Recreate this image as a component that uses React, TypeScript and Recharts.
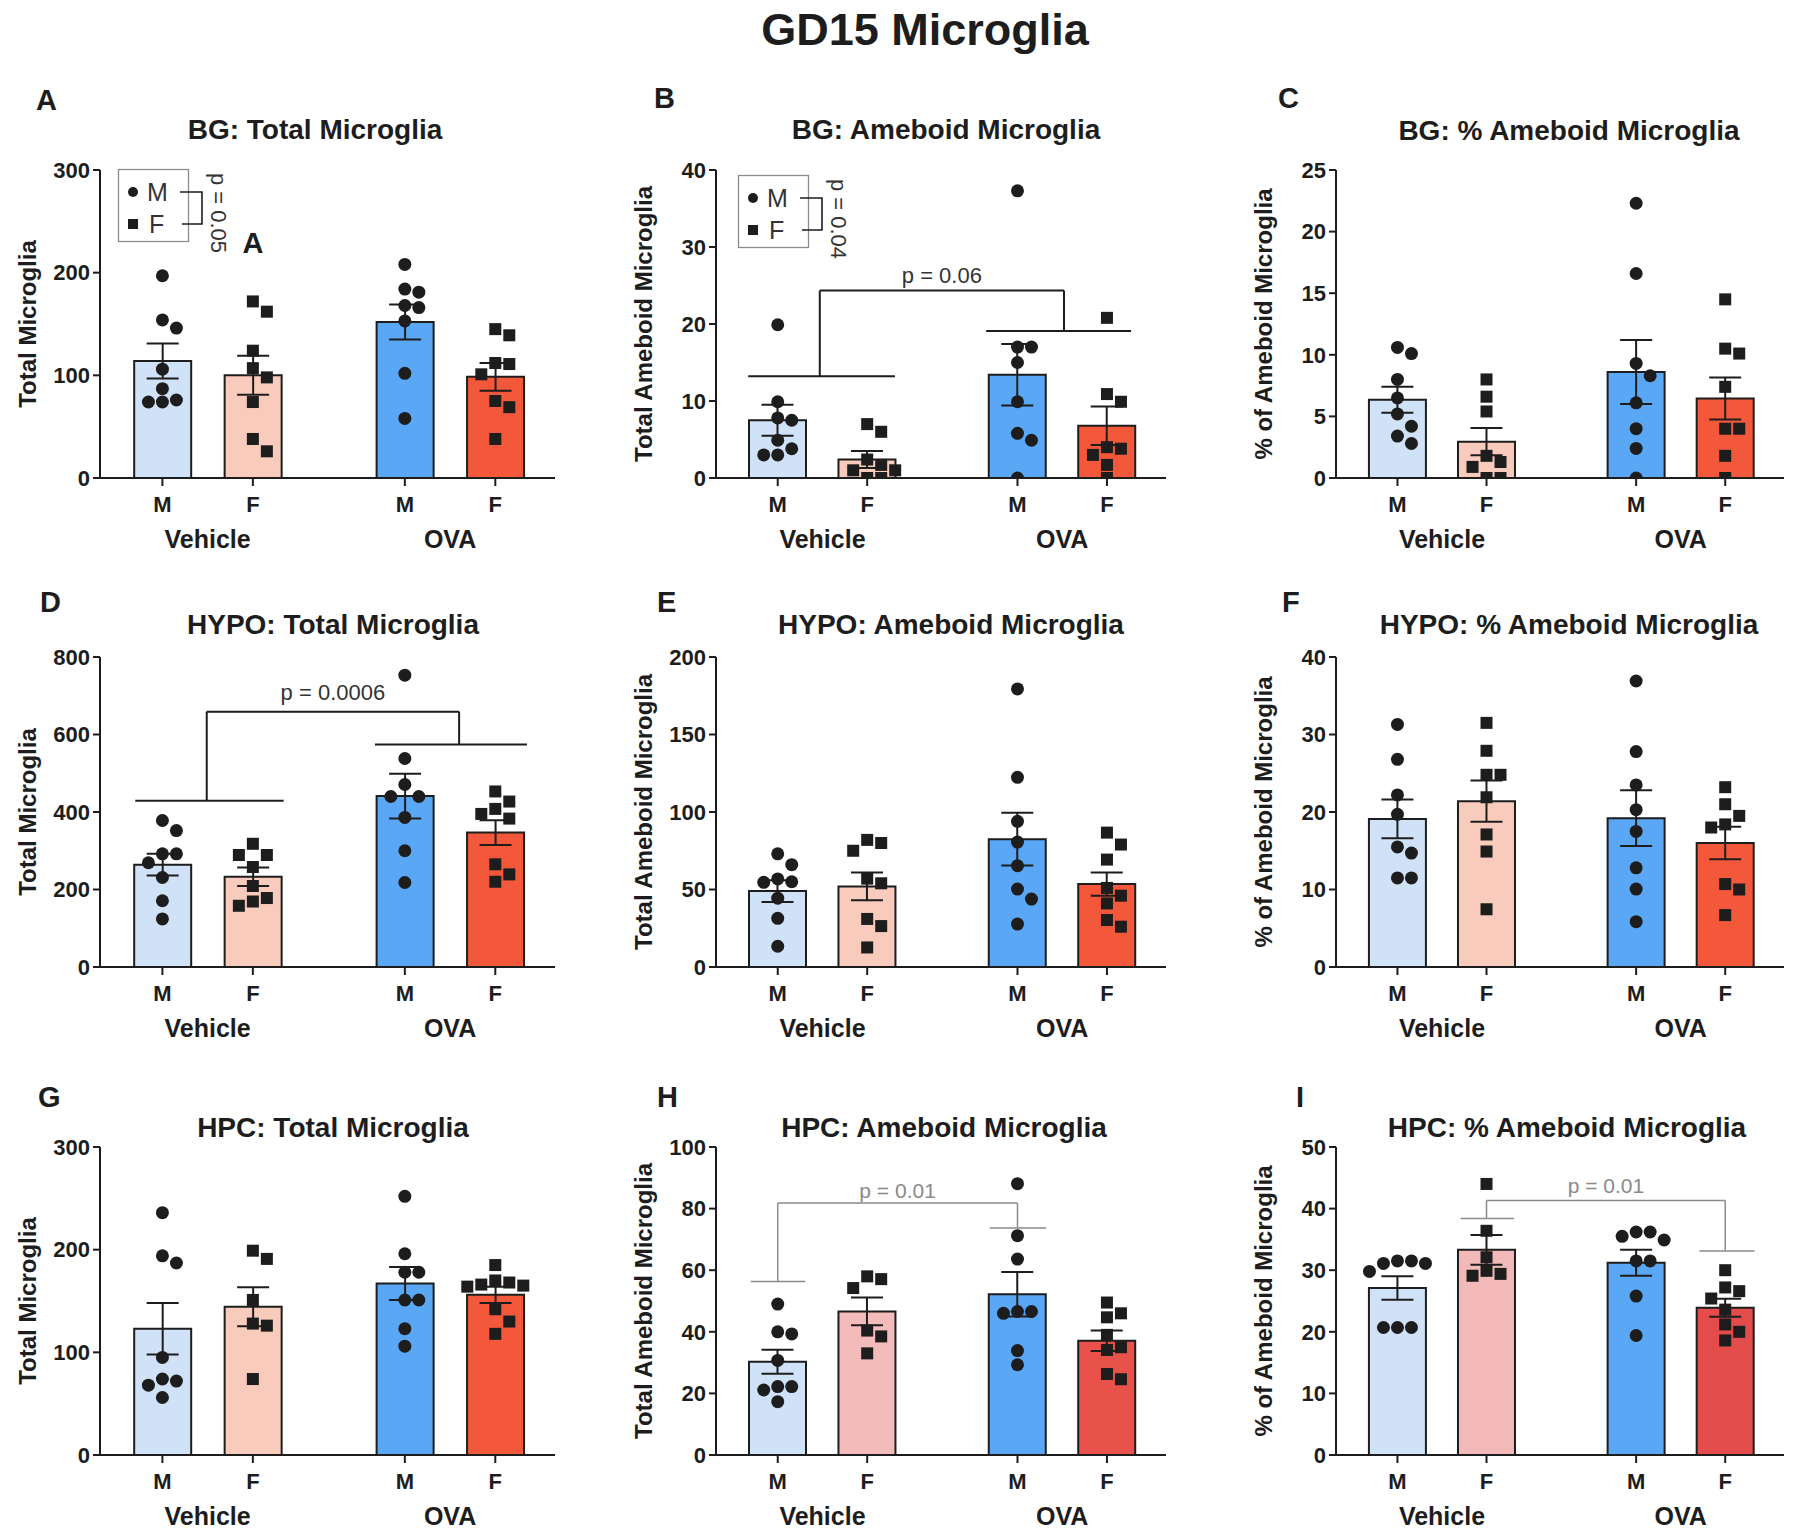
import {
  ComposedChart,
  Bar,
  Cell,
  ErrorBar,
  Scatter,
  XAxis,
  YAxis,
  ReferenceLine,
  ReferenceDot,
  Legend,
} from "recharts";

const FONT = '"Liberation Sans", Arial, Helvetica, sans-serif';
const INK = "#1d1d1d";
const GREY = "#8a8a8a";

// group order in every panel: Vehicle M, Vehicle F, OVA M, OVA F
const groupX = [1, 2, 3.68, 4.68];
const sexTicks = ["M", "F", "M", "F"];
const treatmentX = [1.5, 4.18];
const treatmentTicks = ["Vehicle", "OVA"];
const X_DOMAIN: [number, number] = [0.31, 5.34];

const colorsStd = ["#cfe2f8", "#f9cbbd", "#5aa8f5", "#f4583b"];
const colorsHpcAmeb = ["#cfe2f8", "#f3bcbb", "#5aa8f5", "#e8524b"];
const colorsHpcPct = ["#cfe2f8", "#f2b9b8", "#5aa8f5", "#e44b4b"];

// ---- BG
const bgTotalPts = [
  [197, 154, 146, 106, 87, 76, 74, 74],
  [172, 162, 124, 107, 98, 74, 38, 26],
  [208, 184, 181, 168, 166, 153, 102, 58],
  [145, 139, 112, 111, 101, 75, 69, 38],
];
const bgTotalMean = [114, 100, 152, 98.5];
const bgTotalSem = [17, 19, 17, 13.5];

const bgAmebPts = [
  [19.9, 9.9, 7.8, 7.5, 4.9, 3.8, 3.0, 3.0],
  [7.0, 6.0, 2.4, 1.7, 1.0, 1.0, 0, 0],
  [37.3, 17.0, 17.0, 15.0, 9.9, 5.8, 4.9, 0],
  [20.8, 10.9, 9.9, 4.0, 3.8, 3.0, 1.7, 0],
];
const bgAmebMean = [7.5, 2.4, 13.4, 6.8];
const bgAmebSem = [2.0, 1.1, 4.0, 2.5];

const bgPctPts = [
  [10.6, 10.1, 8.0, 6.5, 5.2, 4.2, 3.4, 2.8],
  [8.0, 6.6, 5.4, 1.8, 1.3, 0.9, 0, 0],
  [22.3, 16.6, 9.3, 8.3, 6.1, 4.0, 2.4, 0],
  [14.5, 10.5, 10.1, 7.4, 4.0, 4.0, 1.8, 0],
];
const bgPctMean = [6.35, 2.95, 8.6, 6.45];
const bgPctSem = [1.05, 1.1, 2.6, 1.7];

// ---- HYPO
const hypoTotalPts = [
  [378, 352, 292, 292, 269, 231, 171, 124],
  [318, 289, 289, 258, 209, 178, 169, 158],
  [753, 538, 471, 440, 440, 386, 300, 218],
  [453, 427, 408, 395, 383, 265, 239, 220],
];
const hypoTotalMean = [264, 233, 441, 347];
const hypoTotalSem = [28, 24, 58, 32];

const hypoAmebPts = [
  [73, 66, 56.8, 55, 54.6, 44.4, 31.4, 13.4],
  [82, 80, 75, 57, 54, 31, 26.4, 12.6],
  [179.4, 122.4, 94, 80.6, 65.4, 50.3, 43.8, 27.7],
  [86.7, 79, 69.3, 51, 46, 41, 30.3, 26],
];
const hypoAmebMean = [49, 52, 82.5, 53.5];
const hypoAmebSem = [7, 9, 17, 7.5];

const hypoPctPts = [
  [31.3, 26.8, 22.2, 19.7, 15.5, 14.7, 11.5, 11.5],
  [31.5, 27.9, 24.8, 24.8, 21.9, 17.1, 14.9, 7.45],
  [36.9, 27.8, 23.5, 20.3, 17.5, 12.8, 10.05, 5.85],
  [23.2, 21.0, 19.5, 18.4, 18.0, 10.7, 10.0, 6.7],
];
const hypoPctMean = [19.1, 21.4, 19.2, 16.0];
const hypoPctSem = [2.5, 2.65, 3.6, 2.1];

// ---- HPC
const hpcTotalPts = [
  [236, 194, 187, 95, 74, 72, 68, 56],
  [199, 191, 151, 128, 126, 74],
  [252, 196, 178, 178, 151, 151, 123, 106],
  [185, 170, 168, 166, 165, 164, 142, 130, 118],
];
const hpcTotalMean = [123, 144.5, 167, 156];
const hpcTotalSem = [25, 19, 16, 8];

const hpcAmebPts = [
  [49, 40, 39.3, 30.7, 22.2, 22.2, 21.1, 17.3],
  [58, 57.1, 54.2, 40.4, 38.5, 33],
  [88.1, 71.2, 63.6, 46.6, 46.6, 46, 33.9, 29.3],
  [49.5, 46, 44.7, 39, 35, 34.1, 26.3, 24.6],
];
const hpcAmebMean = [30.3, 46.6, 52.2, 37.1];
const hpcAmebSem = [3.9, 4.5, 7.2, 3.3];

const hpcPctPts = [
  [31.5, 31.5, 31.1, 31.1, 29.8, 20.7, 20.7, 20.7],
  [44, 36.4, 32.1, 29.9, 29.4, 29.1],
  [36.2, 36.2, 35.5, 34.9, 31.5, 31.5, 25.8, 19.4],
  [30, 27.2, 26.6, 25.4, 23.6, 21.2, 20, 18.6],
];
const hpcPctMean = [27.1, 33.3, 31.2, 23.9];
const hpcPctSem = [1.9, 2.4, 2.1, 1.45];

// plot-area placement on the page
const COLS = [
  { l: 100, r: 555 },
  { l: 716, r: 1166 },
  { l: 1336, r: 1784 },
];
const ROWS = [
  { t: 170, b: 478 },
  { t: 657, b: 967 },
  { t: 1147, b: 1455 },
];
const Y_AXIS_W = 146;
const M_TOP = 20;
const M_RIGHT = 10;
const X_AXIS_H = 30;
const GRP_AXIS_H = 50;

interface Bracket {
  lx: number;
  rx: number;
  top: number;
  leftY: number;
  rightY: number;
  leftSpan: [number, number];
  rightSpan: [number, number];
  text: string;
  textY: number;
  color: string;
  strokeWidth: number;
  fontSize: number;
}

interface PanelSpec {
  col: number;
  row: number;
  yMax: number;
  yTicks: number[];
  yLabel: string;
  pts: number[][];
  mean: number[];
  sem: number[];
  colors: string[];
  bracket?: Bracket;
  sexKey?: { p: string; left: number; top: number };
  mark?: { x: number; y: number; text: string };
}

const panels: PanelSpec[] = [
  {
    col: 0, row: 0, yMax: 300, yTicks: [0, 100, 200, 300], yLabel: "Total Microglia",
    pts: bgTotalPts, mean: bgTotalMean, sem: bgTotalSem, colors: colorsStd,
    sexKey: { p: "p = 0.05", left: 118, top: 169 },
    mark: { x: 2, y: 229, text: "A" },
  },
  {
    col: 1, row: 0, yMax: 40, yTicks: [0, 10, 20, 30, 40], yLabel: "Total Ameboid Microglia",
    pts: bgAmebPts, mean: bgAmebMean, sem: bgAmebSem, colors: colorsStd,
    sexKey: { p: "p = 0.04", left: 738, top: 175 },
    bracket: {
      lx: 1.47, rx: 4.2, top: 24.35, leftY: 13.2, rightY: 19.1,
      leftSpan: [0.67, 2.31], rightSpan: [3.33, 4.95],
      text: "p = 0.06", textY: 26.4, color: INK, strokeWidth: 2, fontSize: 22,
    },
  },
  {
    col: 2, row: 0, yMax: 25, yTicks: [0, 5, 10, 15, 20, 25], yLabel: "% of Ameboid Microglia",
    pts: bgPctPts, mean: bgPctMean, sem: bgPctSem, colors: colorsStd,
  },
  {
    col: 0, row: 1, yMax: 800, yTicks: [0, 200, 400, 600, 800], yLabel: "Total Microglia",
    pts: hypoTotalPts, mean: hypoTotalMean, sem: hypoTotalSem, colors: colorsStd,
    bracket: {
      lx: 1.49, rx: 4.28, top: 659, leftY: 429, rightY: 574,
      leftSpan: [0.7, 2.34], rightSpan: [3.35, 5.03],
      text: "p = 0.0006", textY: 708, color: INK, strokeWidth: 2, fontSize: 22,
    },
  },
  {
    col: 1, row: 1, yMax: 200, yTicks: [0, 50, 100, 150, 200], yLabel: "Total Ameboid Microglia",
    pts: hypoAmebPts, mean: hypoAmebMean, sem: hypoAmebSem, colors: colorsStd,
  },
  {
    col: 2, row: 1, yMax: 40, yTicks: [0, 10, 20, 30, 40], yLabel: "% of Ameboid Microglia",
    pts: hypoPctPts, mean: hypoPctMean, sem: hypoPctSem, colors: colorsStd,
  },
  {
    col: 0, row: 2, yMax: 300, yTicks: [0, 100, 200, 300], yLabel: "Total Microglia",
    pts: hpcTotalPts, mean: hpcTotalMean, sem: hpcTotalSem, colors: colorsStd,
  },
  {
    col: 1, row: 2, yMax: 100, yTicks: [0, 20, 40, 60, 80, 100], yLabel: "Total Ameboid Microglia",
    pts: hpcAmebPts, mean: hpcAmebMean, sem: hpcAmebSem, colors: colorsHpcAmeb,
    bracket: {
      lx: 1, rx: 3.68, top: 81.8, leftY: 56.3, rightY: 73.7,
      leftSpan: [0.7, 1.31], rightSpan: [3.37, 4.0],
      text: "p = 0.01", textY: 86, color: GREY, strokeWidth: 1.5, fontSize: 21,
    },
  },
  {
    col: 2, row: 2, yMax: 50, yTicks: [0, 10, 20, 30, 40, 50], yLabel: "% of Ameboid Microglia",
    pts: hpcPctPts, mean: hpcPctMean, sem: hpcPctSem, colors: colorsHpcPct,
    bracket: {
      lx: 2, rx: 4.68, top: 41.3, leftY: 38.4, rightY: 33.1,
      leftSpan: [1.71, 2.31], rightSpan: [4.39, 5.01],
      text: "p = 0.01", textY: 43.7, color: GREY, strokeWidth: 1.5, fontSize: 21,
    },
  },
];

const panelLetters = [
  { text: "A", x: 36, y: 110 },
  { text: "B", x: 654, y: 108 },
  { text: "C", x: 1278, y: 108 },
  { text: "D", x: 40, y: 612 },
  { text: "E", x: 657, y: 612 },
  { text: "F", x: 1282, y: 612 },
  { text: "G", x: 38, y: 1107 },
  { text: "H", x: 657, y: 1107 },
  { text: "I", x: 1296, y: 1107 },
];

const panelTitles = [
  { text: "BG: Total Microglia", x: 315, y: 139 },
  { text: "BG: Ameboid Microglia", x: 946, y: 139 },
  { text: "BG: % Ameboid Microglia", x: 1569, y: 140 },
  { text: "HYPO: Total Microglia", x: 333, y: 634 },
  { text: "HYPO: Ameboid Microglia", x: 951, y: 634 },
  { text: "HYPO: % Ameboid Microglia", x: 1569, y: 634 },
  { text: "HPC: Total Microglia", x: 333, y: 1137 },
  { text: "HPC: Ameboid Microglia", x: 944, y: 1137 },
  { text: "HPC: % Ameboid Microglia", x: 1567, y: 1137 },
];

// Prism-like dot spreading: each dot goes as near the centre as it can
// without touching the dots already placed (offsets in pixels)
function swarm(values: number[], pxPerY: number, d = 13, step = 14) {
  const order = values.map((_, i) => i).sort((a, b) => values[b] - values[a]);
  const placed: { dx: number; py: number }[] = [];
  const out = values.map(() => 0);
  order.forEach((i) => {
    const py = values[i] * pxPerY;
    for (let k = 0; k < 30; k++) {
      const dx = k === 0 ? 0 : (k % 2 ? 1 : -1) * Math.ceil(k / 2) * step;
      if (placed.every((q) => (q.dx - dx) ** 2 + (q.py - py) ** 2 >= d * d - 0.01)) {
        placed.push({ dx, py });
        out[i] = dx;
        break;
      }
    }
  });
  return out;
}

function Marker(props: any) {
  const { cx, cy, payload } = props;
  if (cx == null || cy == null) return null;
  if (payload.sex === "M") return <circle cx={cx} cy={cy} r={6.5} fill={INK} />;
  return <rect x={cx - 6} y={cy - 6} width={12} height={12} fill={INK} />;
}

function SexKey({ p }: { p: string }) {
  return (
    <svg width={120} height={90} style={{ overflow: "visible", fontFamily: FONT }}>
      <rect x={0.5} y={0.5} width={70} height={72} fill="#fff" stroke="#8c8c8c" strokeWidth={1.3} />
      <circle cx={15} cy={23} r={5} fill={INK} />
      <text x={29} y={32} fontSize={25} fill="#333">M</text>
      <rect x={10} y={50} width={10} height={10} fill={INK} />
      <text x={31} y={64} fontSize={25} fill="#333">F</text>
      <polyline points="62,23 84,23 84,55 64,55" fill="none" stroke={INK} strokeWidth={1.6} />
      <text
        transform="translate(100 44) rotate(90)"
        textAnchor="middle"
        dominantBaseline="central"
        fontSize={22}
        fill="#333"
      >
        {p}
      </text>
    </svg>
  );
}

function bracketLines(br: Bracket) {
  return [
    [br.leftSpan[0], br.leftY, br.leftSpan[1], br.leftY],
    [br.rightSpan[0], br.rightY, br.rightSpan[1], br.rightY],
    [br.lx, br.leftY, br.lx, br.top],
    [br.lx, br.top, br.rx, br.top],
    [br.rx, br.top, br.rx, br.rightY],
  ];
}

function Panel({ spec }: { spec: PanelSpec }) {
  const { l, r } = COLS[spec.col];
  const { t, b } = ROWS[spec.row];
  const plotW = r - l;
  const plotH = b - t;
  const width = Y_AXIS_W + plotW + M_RIGHT;
  const height = M_TOP + plotH + X_AXIS_H + GRP_AXIS_H + 4;
  const left = l - Y_AXIS_W;
  const top = t - M_TOP;
  const pxPerX = plotW / (X_DOMAIN[1] - X_DOMAIN[0]);
  const pxPerY = plotH / spec.yMax;

  const bars = groupX.map((x, i) => ({ x, mean: spec.mean[i], sem: spec.sem[i] }));
  const points = spec.pts.flatMap((vals, g) => {
    const dx = swarm(vals, pxPerY);
    return vals.map((v, j) => ({ x: groupX[g] + dx[j] / pxPerX, y: v, sex: sexTicks[g] }));
  });
  const axisStyle = { stroke: INK, strokeWidth: 2 };

  return (
    <div style={{ position: "absolute", left, top }}>
      <ComposedChart
        width={width}
        height={height}
        data={bars}
        margin={{ top: M_TOP, right: M_RIGHT, bottom: 4, left: 0 }}
      >
        <XAxis
          dataKey="x"
          type="number"
          domain={X_DOMAIN}
          allowDataOverflow
          ticks={groupX}
          interval={0}
          tickFormatter={(_v: number, i: number) => sexTicks[i]}
          height={X_AXIS_H}
          tickSize={8}
          tickMargin={10}
          axisLine={axisStyle}
          tickLine={axisStyle}
          tick={{ fontSize: 22, fontWeight: 700, fill: INK, fontFamily: FONT }}
        />
        {/* second row of labels; the dots and brackets also live on this axis so
            their x values do not shrink the bar band */}
        <XAxis
          xAxisId="grp"
          dataKey="x"
          type="number"
          domain={X_DOMAIN}
          allowDataOverflow
          ticks={treatmentX}
          interval={0}
          tickFormatter={(_v: number, i: number) => treatmentTicks[i]}
          height={GRP_AXIS_H}
          tickSize={0}
          tickMargin={22}
          axisLine={false}
          tickLine={false}
          tick={{ fontSize: 25, fontWeight: 700, fill: INK, fontFamily: FONT }}
        />
        <YAxis
          type="number"
          domain={[0, spec.yMax]}
          allowDataOverflow
          ticks={spec.yTicks}
          interval={0}
          width={Y_AXIS_W}
          tickSize={7}
          tickMargin={3}
          axisLine={axisStyle}
          tickLine={axisStyle}
          tick={{ fontSize: 22, fontWeight: 700, fill: INK, fontFamily: FONT }}
          label={{
            value: spec.yLabel,
            angle: -90,
            position: "center",
            style: { fontSize: 24, fontWeight: 700, fill: INK, fontFamily: FONT },
          }}
        />
        <Bar
          dataKey="mean"
          barSize={57}
          stroke={INK}
          strokeWidth={2}
          isAnimationActive={false}
        >
          {bars.map((_, i) => (
            <Cell key={`bar-${i}`} fill={spec.colors[i]} />
          ))}
          <ErrorBar
            dataKey="sem"
            direction="y"
            width={16}
            stroke={INK}
            strokeWidth={2}
            isAnimationActive={false}
          />
        </Bar>
        <Scatter
          xAxisId="grp"
          data={points}
          dataKey="y"
          shape={Marker}
          isAnimationActive={false}
        />
        {spec.bracket &&
          bracketLines(spec.bracket).map((s, i) => (
            <ReferenceLine
              key={`br-${i}`}
              xAxisId="grp"
              segment={[
                { x: s[0], y: s[1] },
                { x: s[2], y: s[3] },
              ]}
              stroke={spec.bracket!.color}
              strokeWidth={spec.bracket!.strokeWidth}
              ifOverflow="visible"
            />
          ))}
        {spec.bracket && (
          <ReferenceDot
            xAxisId="grp"
            x={(spec.bracket.lx + spec.bracket.rx) / 2}
            y={spec.bracket.textY}
            r={0}
            fill="none"
            stroke="none"
            ifOverflow="visible"
            label={{
              value: spec.bracket.text,
              position: "center",
              fill: spec.bracket.color === INK ? "#333" : GREY,
              fontSize: spec.bracket.fontSize,
              fontFamily: FONT,
            }}
          />
        )}
        {spec.mark && (
          <ReferenceDot
            xAxisId="grp"
            x={spec.mark.x}
            y={spec.mark.y}
            r={0}
            fill="none"
            stroke="none"
            ifOverflow="visible"
            label={{
              value: spec.mark.text,
              position: "center",
              fill: INK,
              fontSize: 29,
              fontWeight: 700,
              fontFamily: FONT,
            }}
          />
        )}
        {spec.sexKey && (
          <Legend
            layout="vertical"
            align="center"
            verticalAlign="middle"
            content={() => <SexKey p={spec.sexKey!.p} />}
            wrapperStyle={{
              left: spec.sexKey.left - left,
              top: spec.sexKey.top - top,
              width: 120,
              height: 90,
            }}
          />
        )}
      </ComposedChart>
    </div>
  );
}

export default function App() {
  return (
    <div
      style={{
        position: "absolute",
        left: 0,
        top: 0,
        width: 1800,
        height: 1536,
        background: "#fff",
        overflow: "hidden",
        fontFamily: FONT,
      }}
    >
      {panels.map((spec, i) => (
        <Panel key={i} spec={spec} />
      ))}
      <svg
        width={1800}
        height={1536}
        style={{ position: "absolute", left: 0, top: 0, pointerEvents: "none" }}
      >
        <text x={925} y={45} textAnchor="middle" fontSize={45} fontWeight={700} fill={INK}>
          GD15 Microglia
        </text>
        {panelLetters.map((p) => (
          <text key={p.text} x={p.x} y={p.y} fontSize={29} fontWeight={700} fill={INK}>
            {p.text}
          </text>
        ))}
        {panelTitles.map((p) => (
          <text key={p.text} x={p.x} y={p.y} textAnchor="middle" fontSize={28} fontWeight={700} fill={INK}>
            {p.text}
          </text>
        ))}
      </svg>
    </div>
  );
}
